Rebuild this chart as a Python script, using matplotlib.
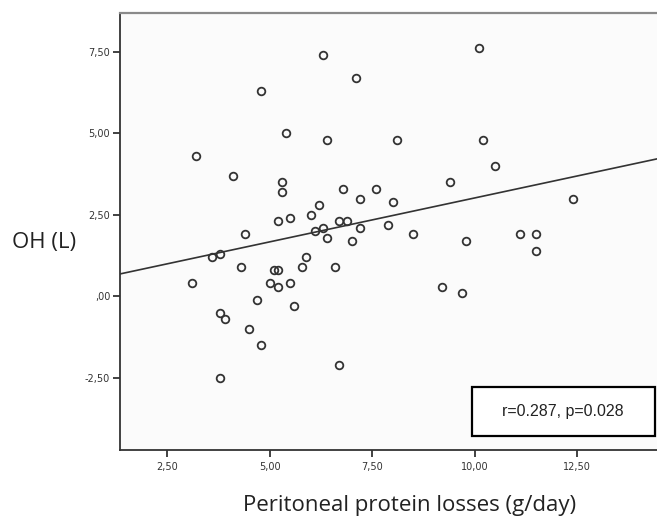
import matplotlib
matplotlib.use('Agg')
import matplotlib.pyplot as plt
import matplotlib.patches as patches
import numpy as np

# peritoneal protein losses (g/day) vs OH (L)
protein_loss = [6.3, 4.8, 5.4, 6.4, 3.2, 4.1, 5.3, 5.3, 6.2, 6.0,
                5.2, 5.5, 4.4, 6.1, 6.3, 6.4, 3.6, 3.8, 5.9, 10.1,
                7.1, 8.1, 10.2, 10.5, 9.4, 6.8, 7.6, 7.2, 8.0, 12.4,
                6.7, 6.9, 7.2, 7.9, 7.0, 8.5, 9.8, 11.1, 11.5, 11.5,
                4.3, 5.1, 5.2, 5.8, 3.1, 5.0, 5.2, 5.5, 4.7, 5.6,
                3.8, 3.9, 4.5, 4.8, 3.8, 6.6, 9.2, 9.7, 6.7]
oh = [7.4, 6.3, 5.0, 4.8, 4.3, 3.7, 3.5, 3.2, 2.8, 2.5,
      2.3, 2.4, 1.9, 2.0, 2.1, 1.8, 1.2, 1.3, 1.2, 7.6,
      6.7, 4.8, 4.8, 4.0, 3.5, 3.3, 3.3, 3.0, 2.9, 3.0,
      2.3, 2.3, 2.1, 2.2, 1.7, 1.9, 1.7, 1.9, 1.9, 1.4,
      0.9, 0.8, 0.8, 0.9, 0.4, 0.4, 0.3, 0.4, -0.1, -0.3,
      -0.5, -0.7, -1.0, -1.5, -2.5, 0.9, 0.3, 0.1, -2.1]

# fitted line as drawn
fit_slope = 0.269
fit_intercept = 0.327

x_ticks = [2.5, 5.0, 7.5, 10.0, 12.5]
x_ticklabels = ['2,50', '5,00', '7,50', '10,00', '12,50']
y_ticks = [-2.5, 0.0, 2.5, 5.0, 7.5]
y_ticklabels = ['-2,50', ',00', '2,50', '5,00', '7,50']

stats_text = 'r=0.287, p=0.028'

fig = plt.figure(figsize=(6.57, 5.22), dpi=100)
fig.patch.set_facecolor('white')
ax = fig.add_axes([0.1826, 0.138, 0.8174, 0.837])
ax.set_facecolor('#fbfbfb')

xmin, xmax = 1.35, 14.45
ax.set_xlim(xmin, xmax)
ax.set_ylim(-4.7, 8.68)

# regression line
xs = np.array([xmin, xmax])
ax.plot(xs, fit_intercept + fit_slope * xs, color='#333333', lw=1.2, zorder=2)

# points
ax.plot(protein_loss, oh, linestyle='none', marker='o', ms=5.5,
        markerfacecolor='none', markeredgecolor='#333333', mew=1.3, zorder=3)

# spines
for side in ['left', 'bottom']:
    ax.spines[side].set_color('#333333')
    ax.spines[side].set_linewidth(1.3)
ax.spines['top'].set_color('#8a8a8a')
ax.spines['top'].set_linewidth(1.6)
ax.spines['right'].set_visible(False)

ax.set_xticks(x_ticks)
ax.set_xticklabels(x_ticklabels)
ax.set_yticks(y_ticks)
ax.set_yticklabels(y_ticklabels)
ax.tick_params(axis='both', direction='out', length=5, width=1.3,
               color='#333333', labelsize=7, labelcolor='#333333', pad=2)
ax.tick_params(axis='x', pad=4)

# stats box
rect = patches.Rectangle((0.655, 0.032), 0.341, 0.111, transform=ax.transAxes,
                         facecolor='white', edgecolor='black', lw=1.6, zorder=4)
ax.add_patch(rect)
ax.text(0.8255, 0.0875, stats_text, transform=ax.transAxes, ha='center',
        va='center', fontsize=11.5, family='Liberation Sans', color='#222222', zorder=5)

# axis labels
fig.text(12 / 657, 1 - 243 / 522, 'OH (L)', ha='left', va='center',
         fontsize=16, family='Open Sans', color='#222222')
fig.text(410 / 657, 1 - 506 / 522, 'Peritoneal protein losses (g/day)',
         ha='center', va='center', fontsize=16, family='Open Sans', color='#222222')

plt.savefig('out.png', dpi=100)
